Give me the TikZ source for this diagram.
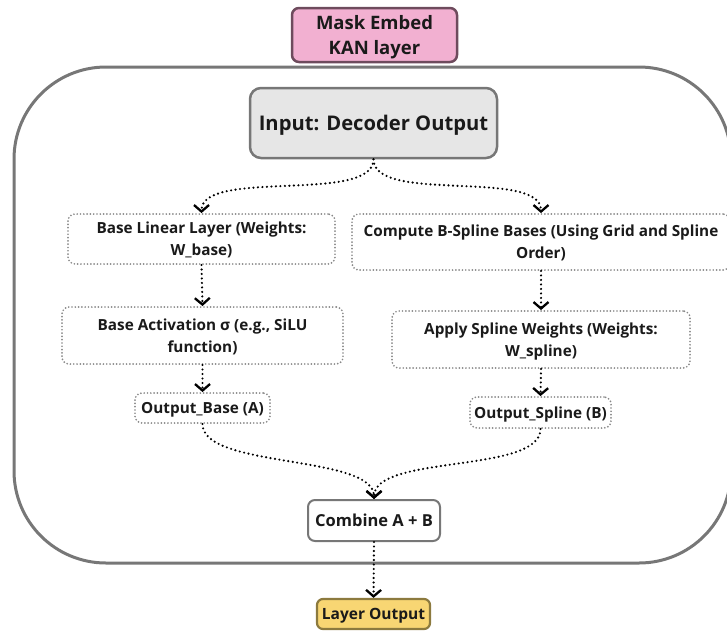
\documentclass[tikz,border=0pt]{standalone}
\usepackage{fontspec}
\setmainfont{Open Sans}
\usetikzlibrary{arrows.meta}
\definecolor{txt}{HTML}{1A1A1A}
\definecolor{pinkf}{HTML}{F2B0D1}
\definecolor{pinkd}{HTML}{6E4B5D}
\definecolor{yelf}{HTML}{F8D673}
\definecolor{yeld}{HTML}{8C7A3E}
\definecolor{frame}{HTML}{777777}
\definecolor{inf}{HTML}{E6E6E6}
\definecolor{dotg}{HTML}{888888}
\begin{document}
\begin{tikzpicture}[x=1pt,y=-1pt,
  every node/.style={text=txt, align=center, inner sep=0pt, text depth=0pt},
  fs/.style 2 args={font=\fontsize{#1}{#2}\selectfont\bfseries},
  dotbox/.style={draw=dotg, line width=1.9pt, dash pattern=on 0pt off 3.3pt, line cap=round, rounded corners=7pt, fill=white, fs={15.3}{22}},
  flow/.style={line width=2.4pt, dash pattern=on 0pt off 4.5pt, line cap=round, -{Straight Barb[length=6.5pt,width=15pt,line width=2.3pt]}},
]
\useasboundingbox (0,0) rectangle (727,632);
\begin{scope}
\clip (0,0) rectangle (727,632);
\draw[frame, line width=3pt, rounded corners=92pt] (14,67) rectangle (731,563);

\node[draw=pinkd, fill=pinkf, line width=2.5pt, rounded corners=7pt, minimum width=165pt, minimum height=54pt, fs={18.5}{25}] (mask) at (374.5,35) {Mask Embed\\KAN layer};

\node[draw=frame, fill=inf, line width=2.5pt, rounded corners=11pt, minimum width=247pt, minimum height=70pt, fs={20.2}{24}] (input) at (373.5,123) {Input: Decoder Output};

\node[dotbox, minimum width=267pt, minimum height=50pt] (base) at (201.5,239) {Base Linear Layer (Weights:\\W\_base)};
\node[dotbox, minimum width=378pt, minimum height=56pt] (bspl) at (541,242) {Compute B-Spline Bases (Using Grid and Spline\\Order)};
\node[dotbox, minimum width=281pt, minimum height=57pt] (act) at (202.5,335.5) {Base Activation σ (e.g., SiLU\\function)};
\node[dotbox, minimum width=298pt, minimum height=57pt] (apply) at (541,339.5) {Apply Spline Weights (Weights:\\W\_spline)};
\node[dotbox, minimum width=135pt, minimum height=30pt, fs={15.3}{18}] (outA) at (202.5,408) {Output\_Base (A)};
\node[dotbox, minimum width=141pt, minimum height=31pt, fs={15.3}{18}] (outB) at (540.5,412.5) {Output\_Spline (B)};

\node[draw=frame, fill=white, line width=2pt, rounded corners=7pt, minimum width=132pt, minimum height=41pt, fs={16.5}{18}] (comb) at (374,520.5) {Combine A + B};
\node[draw=yeld, fill=yelf, line width=2.2pt, rounded corners=6pt, minimum width=113pt, minimum height=30pt, fs={15.5}{18}] (layer) at (373.5,614) {Layer Output};

\draw[flow] (input.south) .. controls +(0,45) and +(0,-45) .. (base.north);
\draw[flow] (input.south) .. controls +(0,45) and +(0,-45) .. (bspl.north);
\draw[flow] (base.south) -- (act.north);
\draw[flow] (bspl.south) -- (apply.north);
\draw[flow] (act.south) -- (outA.north);
\draw[flow] (apply.south) -- (outB.north);
\draw[flow] (outA.south) .. controls +(0,45) and +(0,-45) .. (comb.north);
\draw[flow] (outB.south) .. controls +(0,45) and +(0,-45) .. (comb.north);
\draw[flow] (comb.south) -- (layer.north);
\end{scope}
\end{tikzpicture}
\end{document}
